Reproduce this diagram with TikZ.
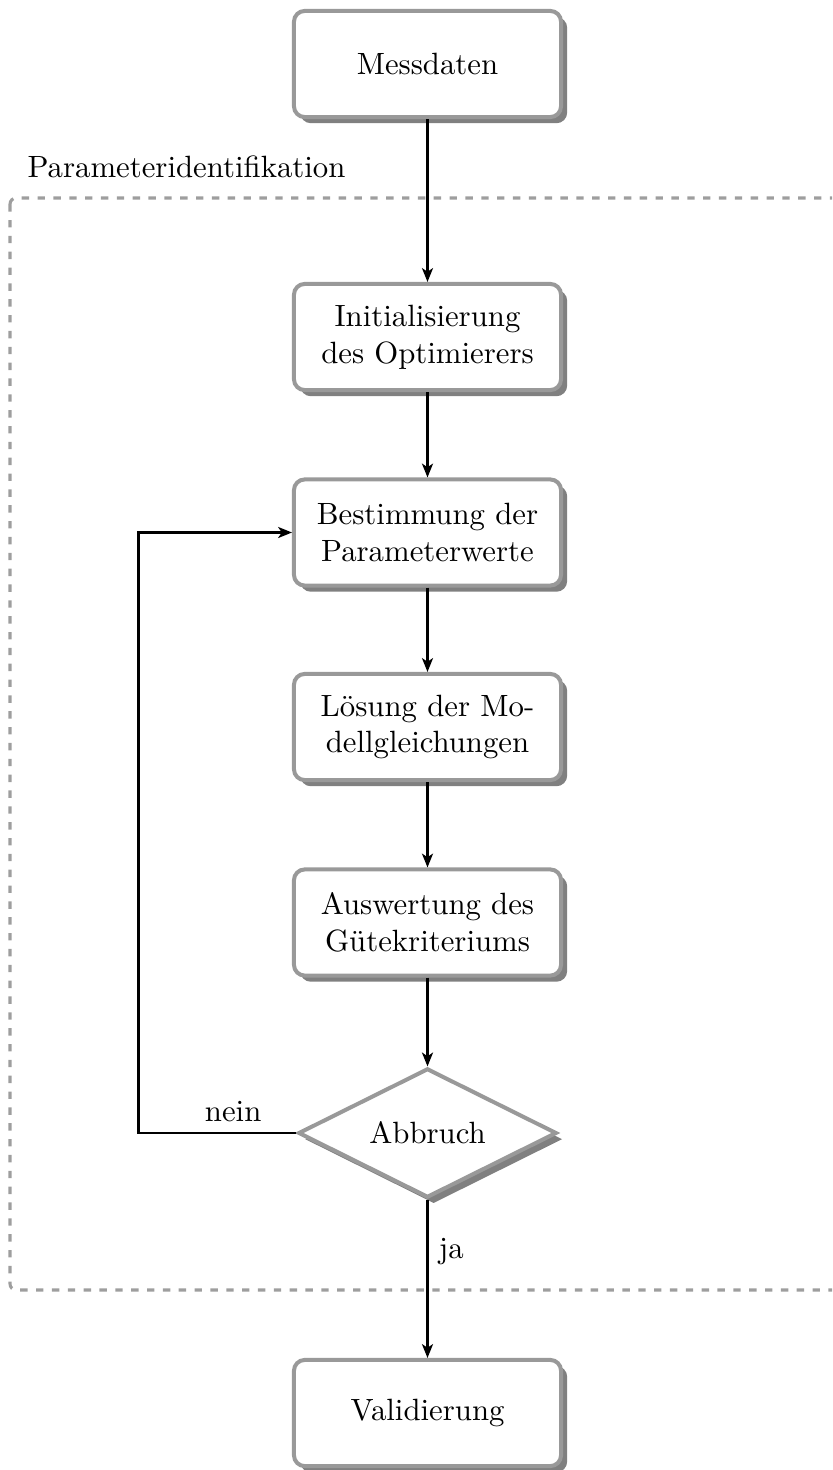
\documentclass[tikz,border=0pt]{standalone}
\usepackage{fontspec}
\usetikzlibrary{shapes.geometric,shadows,arrows.meta}
\begin{document}
\begin{tikzpicture}[x=0.325pt,y=-0.325pt,
  boxshadow/.style={drop shadow={shadow xshift=2pt,shadow yshift=-2pt,fill=black!50,opacity=1}},
  flowbox/.style={rectangle,rounded corners=3.5pt,draw=black!40,line width=1.3pt,fill=white,
    minimum width=86.8pt,minimum height=34.5pt,align=center,inner sep=2pt,boxshadow},
  decision/.style={diamond,shape aspect=2,draw=black!40,line width=1.3pt,fill=white,
    minimum width=84pt,minimum height=42pt,inner sep=1pt,boxshadow},
  flow/.style={line width=0.7pt,-{Stealth[length=4.5pt,width=3.6pt,inset=1.2pt]}},
  frame/.style={draw=black!38,line width=1pt,dash pattern=on 2.4pt off 2.75pt,rounded corners=2pt}
]
\useasboundingbox (0,0) rectangle (832,1470);
\clip (0,0) rectangle (832,1470);

% group frame for the identification loop
\draw[frame] (10,198) rectangle (860,1290);
\node[anchor=base west,inner sep=0pt] (grp) at (27,178) {Parameteridentifikation};

% process steps
\node[flowbox] (mess) at (427.5,64) {Messdaten};
\node[flowbox] (init) at (427.5,337) {Initialisierung\\des Optimierers};
\node[flowbox] (best) at (427.5,532.5) {Bestimmung der\\Parameterwerte};
\node[flowbox] (loes) at (427.5,727) {Lösung der Mo-\\dellgleichungen};
\node[flowbox] (ausw) at (427.5,922.5) {Auswertung des\\Gütekriteriums};
\node[decision] (abbr) at (427.5,1133) {Abbruch};
\node[flowbox] (vali) at (427.5,1413) {Validierung};

\coordinate (back) at (138.5,532.5);

% connectors
\draw[flow] (mess) -- (init);
\draw[flow] (init) -- (best);
\draw[flow] (best) -- (loes);
\draw[flow] (loes) -- (ausw);
\draw[flow] (ausw) -- (abbr);
\draw[flow] (abbr.south) -- node[right,pos=0.33] {ja} (vali);
\draw[flow] (abbr.west) -- node[above,pos=0.4] {nein} (abbr.west -| back) -- (back) -- (best.west);
\end{tikzpicture}
\end{document}
